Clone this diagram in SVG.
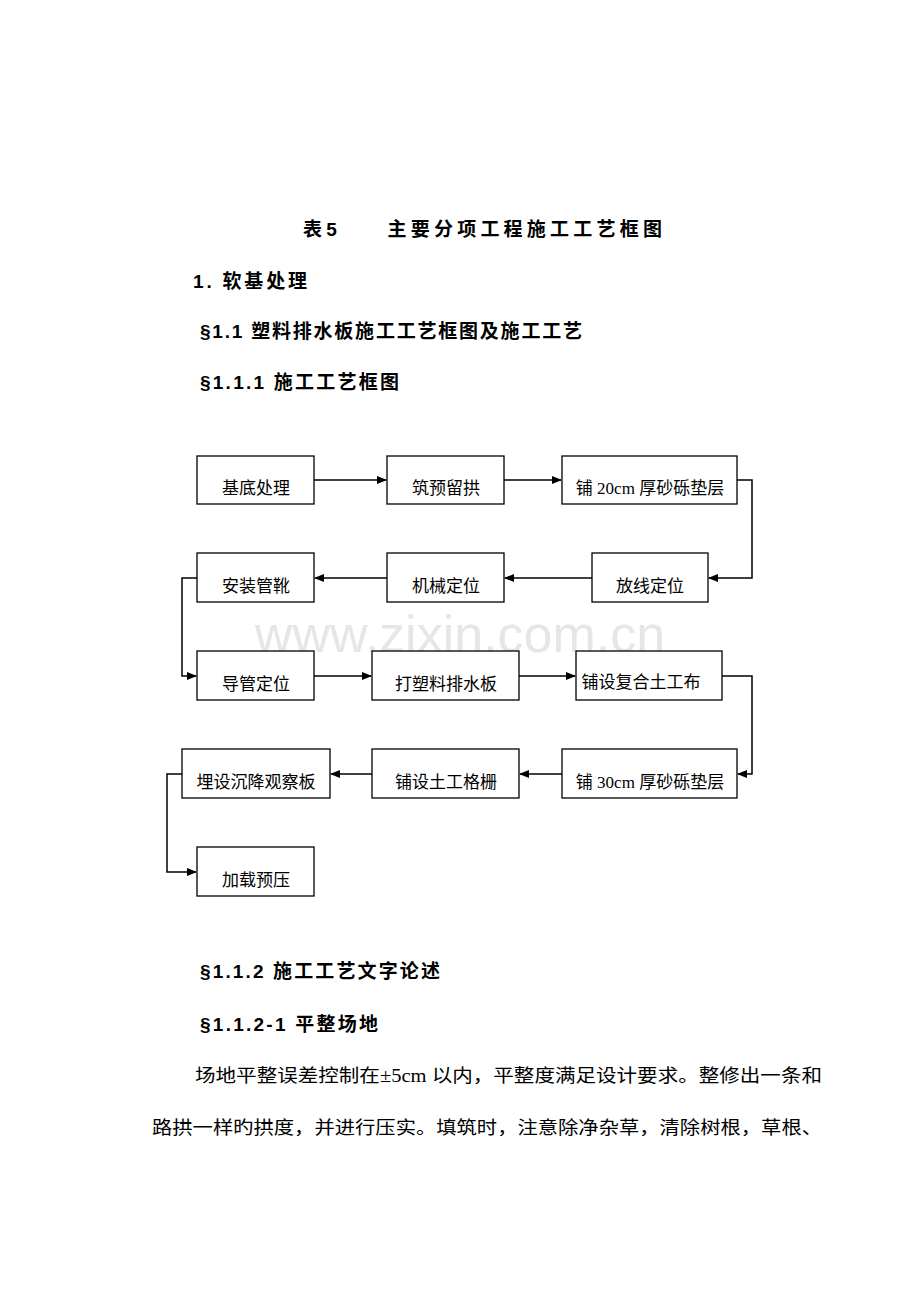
<svg xmlns="http://www.w3.org/2000/svg" width="920" height="1302" viewBox="0 0 920 1302">
<style>
.h{font-family:"Liberation Sans","Noto Sans CJK SC",sans-serif;font-weight:bold;font-size:19px;fill:#000}
.b{fill:#fff;stroke:#000;stroke-width:1.3}
.t{font-family:"Liberation Serif","Noto Sans CJK SC",serif;font-size:17px;text-anchor:middle;fill:#000}
.p{font-family:"Liberation Serif","Noto Sans CJK SC",serif;font-size:18.5px;fill:#000}
.c{fill:none;stroke:#000;stroke-width:1.5;marker-end:url(#a)}
</style>
<defs><marker id="a" markerWidth="10" markerHeight="8" refX="9" refY="4" orient="auto" markerUnits="userSpaceOnUse"><path d="M0,0L10,4L0,8z" fill="#000"/></marker></defs>
<rect width="920" height="1302" fill="#fff"/>
<text x="303" y="236" class="h" font-size="21" textLength="359" lengthAdjust="spacing">表5　　主要分项工程施工工艺框图</text>
<text x="193" y="288" class="h" textLength="114" lengthAdjust="spacing">1.  软基处理</text>
<text x="200" y="338" class="h" textLength="382" lengthAdjust="spacing">§1.1 塑料排水板施工工艺框图及施工工艺</text>
<text x="200" y="389" class="h" textLength="199" lengthAdjust="spacing">§1.1.1 施工工艺框图</text>
<text x="460" y="652" font-family="Liberation Sans,sans-serif" font-size="52" fill="#e6e6e6" text-anchor="middle">www.zixin.com.cn</text>
<g id="connectors">
<path class="c" d="M314,480H386"/>
<path class="c" d="M504,480H561"/>
<path class="c" d="M737,480H752V578H709"/>
<path class="c" d="M592,578H505"/>
<path class="c" d="M387,578H315"/>
<path class="c" d="M197,578H182V676H196"/>
<path class="c" d="M314,676H371"/>
<path class="c" d="M519,676H575"/>
<path class="c" d="M722,676H752V774H738"/>
<path class="c" d="M562,774H520"/>
<path class="c" d="M372,774H331"/>
<path class="c" d="M182,774H167V872H196"/>
</g>
<g id="n1"><rect class="b" x="197" y="456" width="117" height="48"/><text class="t" x="256" y="494">基底处理</text></g>
<g id="n2"><rect class="b" x="387" y="456" width="117" height="48"/><text class="t" x="446" y="494">筑预留拱</text></g>
<g id="n3"><rect class="b" x="562" y="456" width="175" height="48"/><text class="t" x="650" y="494">铺 20cm 厚砂砾垫层</text></g>
<g id="n4"><rect class="b" x="592" y="553" width="116" height="49"/><text class="t" x="650" y="592">放线定位</text></g>
<g id="n5"><rect class="b" x="387" y="553" width="117" height="49"/><text class="t" x="446" y="592">机械定位</text></g>
<g id="n6"><rect class="b" x="197" y="553" width="117" height="49"/><text class="t" x="256" y="592">安装管靴</text></g>
<g id="n7"><rect class="b" x="197" y="651" width="117" height="49"/><text class="t" x="256" y="690">导管定位</text></g>
<g id="n8"><rect class="b" x="372" y="651" width="147" height="49"/><text class="t" x="446" y="690">打塑料排水板</text></g>
<g id="n9"><rect class="b" x="576" y="651" width="146" height="49"/><text class="t" x="641" y="688" font-size="15">铺设复合土工布</text></g>
<g id="n10"><rect class="b" x="562" y="749" width="175" height="49"/><text class="t" x="650" y="788">铺 30cm 厚砂砾垫层</text></g>
<g id="n11"><rect class="b" x="372" y="749" width="147" height="49"/><text class="t" x="446" y="788">铺设土工格栅</text></g>
<g id="n12"><rect class="b" x="182" y="749" width="148" height="49"/><text class="t" x="256" y="788">埋设沉降观察板</text></g>
<g id="n13"><rect class="b" x="197" y="847" width="117" height="49"/><text class="t" x="256" y="886">加载预压</text></g>
<text x="200" y="978" class="h" textLength="240" lengthAdjust="spacing">§1.1.2 施工工艺文字论述</text>
<text x="200" y="1031" class="h" textLength="178" lengthAdjust="spacing">§1.1.2-1 平整场地</text>
<text x="195" y="1082" class="p" textLength="627" lengthAdjust="spacingAndGlyphs">场地平整误差控制在±5cm 以内，平整度满足设计要求。整修出一条和</text>
<text x="152" y="1134" class="p" textLength="670" lengthAdjust="spacingAndGlyphs">路拱一样旳拱度，并进行压实。填筑时，注意除净杂草，清除树根，草根、</text>
</svg>
